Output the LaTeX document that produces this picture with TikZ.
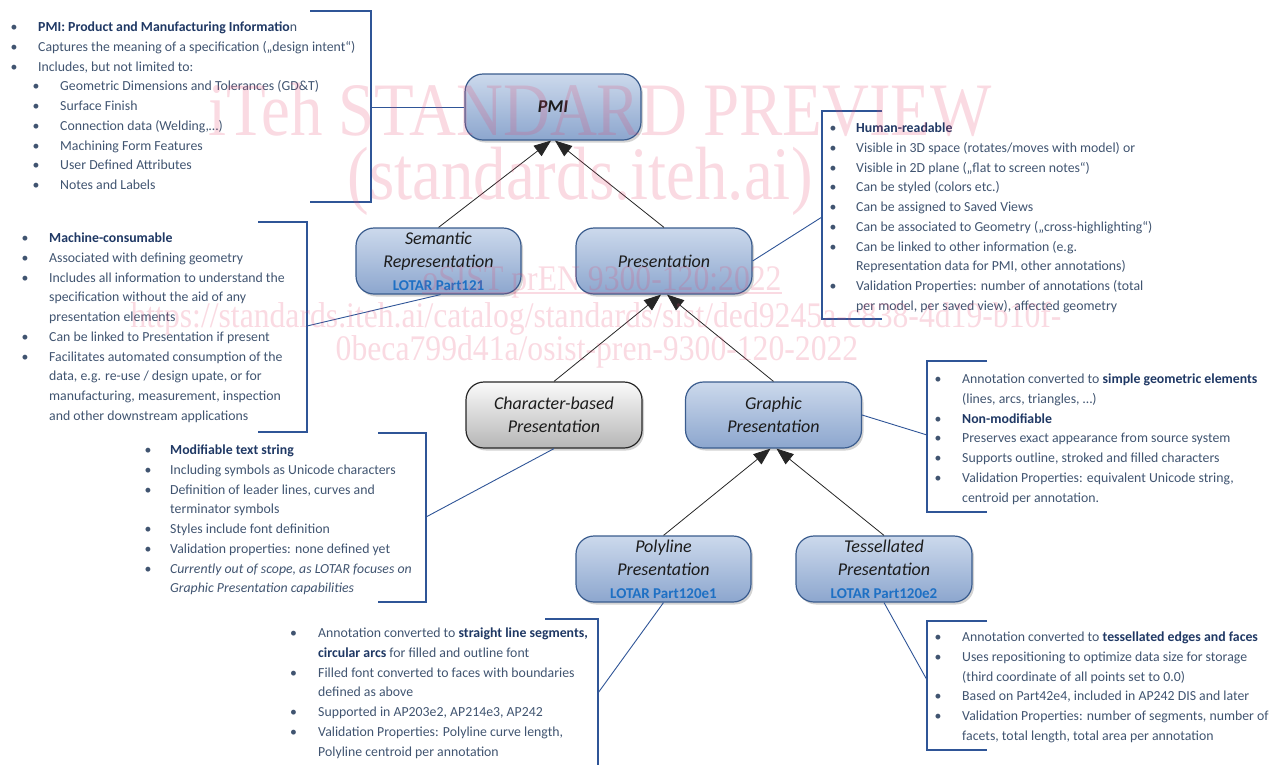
\documentclass[tikz,border=0pt]{standalone}
\usepackage{fontspec}
\setmainfont{Carlito}
\newfontfamily\wmfont{Liberation Serif}
\usetikzlibrary{arrows.meta,shadows,calc}
\definecolor{txt}{RGB}{64,84,112}
\definecolor{txtb}{RGB}{31,56,100}
\definecolor{bluebr}{RGB}{47,85,151}
\definecolor{ntop}{RGB}{204,217,236}
\definecolor{nbot}{RGB}{140,166,206}
\definecolor{nbd}{RGB}{58,92,142}
\definecolor{gtop}{RGB}{250,250,250}
\definecolor{gbot}{RGB}{182,182,182}
\definecolor{gbd}{RGB}{40,40,40}
\definecolor{ink}{RGB}{28,28,28}
\definecolor{lotar}{RGB}{30,112,196}
\definecolor{wmc}{RGB}{228,70,110}
\newlength\bw
\setlength\bw{27.5pt}
\newcommand\bi[1]{\makebox[\bw][l]{\textbullet}#1}
\newcommand\ci[1]{\hspace*{\bw}#1}
\newcommand\si[1]{\hspace*{22pt}\makebox[27.5pt][l]{\textbullet}#1}
\newcommand\B[1]{{\color{txtb}\bfseries #1}}
\newcommand\lotar{\fontsize{15}{23}\selectfont\upshape\bfseries\color{lotar}}
\tikzset{
  fc/.style={rounded corners=18pt, draw=nbd, line width=1.2pt, top color=ntop, bottom color=nbot,
    minimum width=176pt, minimum height=66pt, inner sep=0pt, align=center,
    font=\fontsize{18}{23}\selectfont\itshape, text=ink,
    drop shadow={shadow xshift=2pt, shadow yshift=-2.5pt, opacity=.35}},
  fcg/.style={fc, draw=gbd, top color=gtop, bottom color=gbot},
  arr/.style={draw=black!85, line width=0.8pt, -{Triangle[length=17pt,width=13pt]}},
  con/.style={draw=bluebr, line width=0.9pt},
  bracket/.style={draw=bluebr, line width=1.1pt},
  blk/.style={anchor=base west, inner sep=0pt, text=txt, font=\fontsize{13.8}{19.75}\selectfont},
  wm/.style={inner sep=0pt, anchor=base, text=wmc, text opacity=0.2}
}
\begin{document}
\begin{tikzpicture}[x=1pt,y=-1pt]
\useasboundingbox (0,0) rectangle (1284,764);
% brackets
\draw[bracket] (310,11) -- (371,11) -- (371,202) -- (310,202);
\draw[bracket] (882,111) -- (822,111) -- (822,319) -- (882,319);
\draw[bracket] (258,222) -- (307,222) -- (307,432) -- (258,432);
\draw[bracket] (378,433) -- (426,433) -- (426,602) -- (378,602);
\draw[bracket] (987,361) -- (927,361) -- (927,512) -- (987,512);
\draw[bracket] (545,619) -- (598,619) -- (598,766);
\draw[bracket] (987,621) -- (927,621) -- (927,750) -- (987,750);
% text blocks
\node[blk] (ta) at (10.5,31.5) {\begin{tabular}[t]{@{}l@{}}
\bi{\B{PMI: Product and Manufacturing Informatio}n}\\
\bi{Captures the meaning of a specification („design intent“)}\\
\bi{Includes, but not limited to:}\\
\si{Geometric Dimensions and Tolerances (GD\&T)}\\
\si{Surface Finish}\\
\si{Connection data (Welding,…)}\\
\si{Machining Form Features}\\
\si{User Defined Attributes}\\
\si{Notes and Labels}
\end{tabular}};
\node[blk] (tb) at (21.5,242.5) {\begin{tabular}[t]{@{}l@{}}
\bi{\B{Machine-consumable}}\\
\bi{Associated with defining geometry}\\
\bi{Includes all information to understand the}\\
\ci{specification without the aid of any}\\
\ci{presentation elements}\\
\bi{Can be linked to Presentation if present}\\
\bi{Facilitates automated consumption of the}\\
\ci{data, e.g. re-use / design upate, or for}\\
\ci{manufacturing, measurement, inspection}\\
\ci{and other downstream applications}
\end{tabular}};
\node[blk] (tc) at (829.5,132.5) {\setlength\bw{26.5pt}\begin{tabular}[t]{@{}l@{}}
\bi{\B{Human-readable}}\\
\bi{Visible in 3D space (rotates/moves with model) or}\\
\bi{Visible in 2D plane („flat to screen notes“)}\\
\bi{Can be styled (colors etc.)}\\
\bi{Can be assigned to Saved Views}\\
\bi{Can be associated to Geometry („cross-highlighting“)}\\
\bi{Can be linked to other information (e.g.}\\
\ci{Representation data for PMI, other annotations)}\\
\bi{Validation Properties: number of annotations (total}\\
\ci{per model, per saved view), affected geometry}
\end{tabular}};
\node[blk] (td) at (144.5,454.5) {\setlength\bw{25.5pt}\begin{tabular}[t]{@{}l@{}}
\bi{\B{Modifiable text string}}\\
\bi{Including symbols as Unicode characters}\\
\bi{Definition of leader lines, curves and}\\
\ci{terminator symbols}\\
\bi{Styles include font definition}\\
\bi{Validation properties: none defined yet}\\
\bi{\textit{Currently out of scope, as LOTAR focuses on}}\\
\ci{\textit{Graphic Presentation capabilities}}
\end{tabular}};
\node[blk] (te) at (934.5,383.5) {\begin{tabular}[t]{@{}l@{}}
\bi{Annotation converted to \B{simple geometric elements}}\\
\ci{(lines, arcs, triangles, …)}\\
\bi{\B{Non-modifiable}}\\
\bi{Preserves exact appearance from source system}\\
\bi{Supports outline, stroked and filled characters}\\
\bi{Validation Properties: equivalent Unicode string,}\\
\ci{centroid per annotation.}
\end{tabular}};
\node[blk] (tf) at (290,637.5) {\setlength\bw{28pt}\begin{tabular}[t]{@{}l@{}}
\bi{Annotation converted to \B{straight line segments,}}\\
\ci{\B{circular arcs} for filled and outline font}\\
\bi{Filled font converted to faces with boundaries}\\
\ci{defined as above}\\
\bi{Supported in AP203e2, AP214e3, AP242}\\
\bi{Validation Properties: Polyline curve length,}\\
\ci{Polyline centroid per annotation}
\end{tabular}};
\node[blk] (tg) at (934.5,641.5) {\begin{tabular}[t]{@{}l@{}}
\bi{Annotation converted to \B{tessellated edges and faces}}\\
\bi{Uses repositioning to optimize data size for storage}\\
\ci{(third coordinate of all points set to 0.0)}\\
\bi{Based on Part42e4, included in AP242 DIS and later}\\
\bi{Validation Properties: number of segments, number of}\\
\ci{facets, total length, total area per annotation}
\end{tabular}};
% flowchart nodes
\node[fc] (pmi) at (553,107) {\bfseries PMI};
\node[fc, minimum width=165pt] (sem) at (438.5,261) {Semantic\\Representation\\{\lotar LOTAR Part121}};
\node[fc] (pres) at (664,261) {Presentation};
\node[fcg] (chr) at (554,415) {Character-based\\Presentation};
\node[fc] (gra) at (773.5,415) {Graphic\\Presentation};
\node[fc, minimum width=175pt] (pol) at (663.5,569) {Polyline\\Presentation\\{\lotar LOTAR Part120e1}};
\node[fc] (tes) at (884,569) {Tessellated\\Presentation\\{\lotar LOTAR Part120e2}};
% arrows
\draw[arr] (sem.north) -- ([xshift=-2pt]pmi.south);
\draw[arr] (pres.north) -- ([xshift=2pt]pmi.south);
\draw[arr] (chr.north) -- ([xshift=-3pt]pres.south);
\draw[arr] (gra.north) -- ([xshift=3pt]pres.south);
\draw[arr] (pol.north) -- ([xshift=-3pt]gra.south);
\draw[arr] (tes.north) -- ([xshift=3pt]gra.south);
% connectors to brackets
\coordinate (b1) at (371,107);
\coordinate (b2) at (822,217);
\coordinate (b3) at (307,326);
\coordinate (b4) at (426,517);
\coordinate (b5) at (927,435);
\coordinate (b6) at (598,693);
\coordinate (b7) at (927,680);
\draw[con] (pmi.west) -- (b1);
\draw[con] (pres.east) -- (b2);
\draw[con] ([xshift=2pt]sem.south) -- (b3);
\draw[con] (chr.south) -- (b4);
\draw[con] (gra.east) -- (b5);
\draw[con] (pol.south) -- (b6);
\draw[con] (tes.south) -- (b7);
% watermark
\node[wm, font=\wmfont\fontsize{75.5}{75.5}\selectfont] (w1) at (600,135) {\scalebox{0.86}[1]{iTeh STANDARD PREVIEW}};
\node[wm, font=\wmfont\fontsize{75.5}{75.5}\selectfont] (w2) at (580,199) {\scalebox{0.86}[1]{(standards.iteh.ai)}};
\node[wm, font=\wmfont\fontsize{36}{36}\selectfont] (w3) at (602,290) {\scalebox{0.88}[1]{oSIST prEN 9300-120:2022}};
\draw[draw=wmc, opacity=0.2, line width=1.2pt] ([yshift=-3pt]w3.base west) -- ([yshift=-3pt]w3.base east);
\node[wm, font=\wmfont\fontsize{36}{36}\selectfont] (w4) at (596,327) {\scalebox{0.88}[1]{https://standards.iteh.ai/catalog/standards/sist/ded9245a-c838-4d19-b10f-}};
\node[wm, font=\wmfont\fontsize{36}{36}\selectfont] (w5) at (597,360) {\scalebox{0.88}[1]{0beca799d41a/osist-pren-9300-120-2022}};
\end{tikzpicture}
\end{document}
